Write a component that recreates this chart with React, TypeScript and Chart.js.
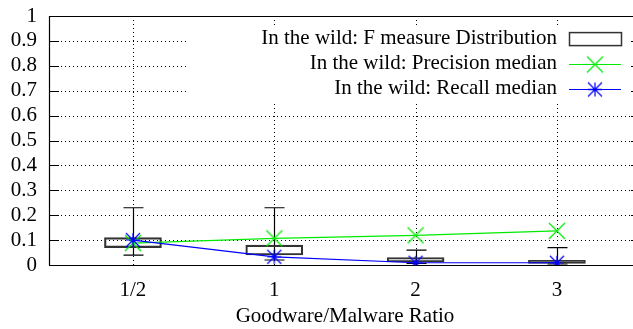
import React, { useEffect, useRef } from 'react';
import { Chart, registerables } from 'chart.js';

Chart.register(...registerables);

// Goodware/Malware ratio categories, placed at x = 1..4 on a linear axis
const categories = ['1/2', '1', '2', '3'];
const positions = [1, 2, 3, 4];

// F measure distribution (box + whiskers)
const boxLow = [0.07, 0.04, 0.012, 0.006];
const boxHigh = [0.11, 0.08, 0.03, 0.019];
const whiskerLow = [0.04, 0.02, 0.006, 0.004];
const whiskerHigh = [0.23, 0.23, 0.06, 0.07];

// Medians
const precisionMedian = [0.088, 0.107, 0.119, 0.137];
const recallMedian = [0.1, 0.033, 0.009, 0.009];

const yTicks = [0, 0.1, 0.2, 0.3, 0.4, 0.5, 0.6, 0.7, 0.8, 0.9, 1];

const legendLabels = [
  'In the wild: F measure Distribution',
  'In the wild: Precision median',
  'In the wild: Recall median',
];
const xTitle = 'Goodware/Malware Ratio';

const FONT_FAMILY = "'Liberation Serif', 'Times New Roman', serif";
const FONT_SIZE = 21;
const GREEN = 'rgb(0, 235, 0)';
const BLUE = 'rgb(0, 0, 255)';
const BOX_COLOR = '#333333';

const CANVAS_W = 660;
const CANVAS_H = 329;

function makeMarker(color: string, withPlus: boolean, s: number): HTMLCanvasElement {
  const size = Math.ceil(2 * s + 4);
  const c = document.createElement('canvas');
  c.width = size;
  c.height = size;
  const g = c.getContext('2d')!;
  const m = size / 2;
  g.strokeStyle = color;
  g.lineWidth = 1.2;
  g.beginPath();
  g.moveTo(m - s, m - s);
  g.lineTo(m + s, m + s);
  g.moveTo(m - s, m + s);
  g.lineTo(m + s, m - s);
  if (withPlus) {
    g.moveTo(m - s, m);
    g.lineTo(m + s, m);
    g.moveTo(m, m - s);
    g.lineTo(m, m + s);
  }
  g.stroke();
  return c;
}

function noScalePadding(scale: any) {
  scale.paddingTop = 0;
  scale.paddingBottom = 0;
  scale.paddingLeft = 0;
  scale.paddingRight = 0;
}

export default function App() {
  const canvasRef = useRef<HTMLCanvasElement | null>(null);

  useEffect(() => {
    document.body.style.margin = '0';
    const canvas = canvasRef.current;
    if (!canvas) return;

    const crossMarker = makeMarker(GREEN, false, 8);
    const starMarker = makeMarker(BLUE, true, 7);

    const font = { family: FONT_FAMILY, size: FONT_SIZE };

    const decor = {
      id: 'gnuplotDecor',
      beforeDatasetsDraw(chart: any) {
        const { ctx, chartArea, scales } = chart;
        const { left, right, top, bottom } = chartArea;
        const xs = scales.x;
        const ys = scales.y;
        ctx.save();
        // dotted grid
        ctx.strokeStyle = '#000';
        ctx.lineWidth = 1;
        ctx.setLineDash([1, 3]);
        ctx.beginPath();
        yTicks.forEach((v) => {
          if (v <= 0 || v >= 1) return;
          const py = Math.round(ys.getPixelForValue(v)) + 0.5;
          ctx.moveTo(left, py);
          ctx.lineTo(right, py);
        });
        positions.forEach((p) => {
          const px = Math.round(xs.getPixelForValue(p)) + 0.5;
          ctx.moveTo(px, top);
          ctx.lineTo(px, bottom);
        });
        ctx.stroke();
        ctx.setLineDash([]);

        // inward tick marks on the y axes
        ctx.beginPath();
        yTicks.forEach((v) => {
          const py = Math.round(ys.getPixelForValue(v)) + 0.5;
          ctx.moveTo(left, py);
          ctx.lineTo(left + 10, py);
          ctx.moveTo(right, py);
          ctx.lineTo(right - 10, py);
        });
        ctx.stroke();

        // whiskers with bars
        ctx.strokeStyle = '#000';
        ctx.lineWidth = 1.2;
        ctx.beginPath();
        positions.forEach((p, i) => {
          const px = Math.round(xs.getPixelForValue(p)) + 0.5;
          const lo = ys.getPixelForValue(whiskerLow[i]);
          const hi = ys.getPixelForValue(whiskerHigh[i]);
          ctx.moveTo(px, lo);
          ctx.lineTo(px, hi);
          ctx.moveTo(px - 10, hi);
          ctx.lineTo(px + 10, hi);
          ctx.moveTo(px - 10, lo);
          ctx.lineTo(px + 10, lo);
        });
        ctx.stroke();
        ctx.restore();
      },
      afterDatasetsDraw(chart: any) {
        const { ctx, chartArea } = chart;
        const { left, right, top, bottom } = chartArea;
        ctx.save();

        // key with opaque background
        ctx.fillStyle = '#fff';
        ctx.fillRect(right - 453, top + 10, 442, 76);
        ctx.font = `${FONT_SIZE}px ${FONT_FAMILY}`;
        ctx.fillStyle = '#000';
        ctx.textAlign = 'right';
        ctx.textBaseline = 'middle';
        const textX = right - 84;
        const sx0 = right - 72;
        const sx1 = right - 20;
        const sxm = (sx0 + sx1) / 2;
        const rows = [top + 22.6, top + 47.6, top + 72.6];
        legendLabels.forEach((t, i) => ctx.fillText(t, textX, rows[i]));

        ctx.strokeStyle = BOX_COLOR;
        ctx.lineWidth = 1.5;
        ctx.strokeRect(sx0 + 0.5, rows[0] - 6, sx1 - sx0, 13);

        ctx.lineWidth = 1.2;
        ctx.strokeStyle = GREEN;
        ctx.beginPath();
        ctx.moveTo(sx0, Math.round(rows[1]) + 0.5);
        ctx.lineTo(sx1, Math.round(rows[1]) + 0.5);
        ctx.stroke();
        ctx.drawImage(crossMarker, sxm - crossMarker.width / 2, Math.round(rows[1]) + 0.5 - crossMarker.height / 2);

        ctx.strokeStyle = BLUE;
        ctx.beginPath();
        ctx.moveTo(sx0, Math.round(rows[2]) + 0.5);
        ctx.lineTo(sx1, Math.round(rows[2]) + 0.5);
        ctx.stroke();
        ctx.drawImage(starMarker, sxm - starMarker.width / 2, Math.round(rows[2]) + 0.5 - starMarker.height / 2);

        // plot border
        ctx.strokeStyle = '#000';
        ctx.lineWidth = 1.2;
        ctx.beginPath();
        ctx.moveTo(left + 0.5, top + 0.5);
        ctx.lineTo(right, top + 0.5);
        ctx.moveTo(left + 0.5, top);
        ctx.lineTo(left + 0.5, bottom + 0.5);
        ctx.moveTo(left, bottom + 0.5);
        ctx.lineTo(right, bottom + 0.5);
        ctx.moveTo(right - 0.5, top);
        ctx.lineTo(right - 0.5, bottom);
        ctx.stroke();
        ctx.restore();
      },
    };

    const chart = new Chart(canvas, {
      data: {
        datasets: [
          {
            type: 'line',
            label: legendLabels[2],
            data: positions.map((p, i) => ({ x: p, y: recallMedian[i] })),
            borderColor: BLUE,
            backgroundColor: BLUE,
            borderWidth: 1.2,
            pointStyle: starMarker,
            pointRadius: 5,
            tension: 0,
          },
          {
            type: 'line',
            label: legendLabels[1],
            data: positions.map((p, i) => ({ x: p, y: precisionMedian[i] })),
            borderColor: GREEN,
            backgroundColor: GREEN,
            borderWidth: 1.2,
            pointStyle: crossMarker,
            pointRadius: 5,
            tension: 0,
          },
          {
            type: 'bar',
            label: legendLabels[0],
            data: positions.map((p, i) => ({ x: p, y: [boxLow[i], boxHigh[i]] })),
            backgroundColor: 'rgba(255,255,255,0)',
            borderColor: BOX_COLOR,
            borderWidth: 1.5,
            borderSkipped: false,
            barThickness: 57,
          },
        ],
      } as any,
      options: {
        responsive: false,
        animation: false,
        layout: { padding: { left: 0, right: CANVAS_W - 641, top: 16, bottom: 0 } },
        plugins: {
          legend: { display: false },
          tooltip: { enabled: false },
        },
        scales: {
          x: {
            type: 'linear',
            offset: false,
            min: 0.406,
            max: 4.595,
            grid: { display: false, drawTicks: false, offset: false },
            border: { display: false },
            afterBuildTicks: (scale: any) => {
              scale.ticks = positions.map((v) => ({ value: v }));
            },
            ticks: {
              autoSkip: false,
              maxRotation: 0,
              padding: 12.4,
              color: '#000',
              font,
              callback: (v: any) => {
                const i = positions.indexOf(Number(v));
                return i >= 0 ? categories[i] : '';
              },
            },
            title: {
              display: true,
              text: xTitle,
              color: '#000',
              font,
              padding: { top: 0, bottom: 0 },
            },
            afterFit: (scale: any) => {
              scale.height = 64;
              noScalePadding(scale);
            },
          },
          y: {
            type: 'linear',
            min: 0,
            max: 1,
            grid: { display: false, drawTicks: false },
            border: { display: false },
            afterBuildTicks: (scale: any) => {
              scale.ticks = yTicks.map((v) => ({ value: v }));
            },
            ticks: {
              autoSkip: false,
              padding: 12,
              color: '#000',
              font,
              callback: (v: any) => String(Math.round(Number(v) * 10) / 10),
            },
            afterFit: (scale: any) => {
              scale.width = 49;
              noScalePadding(scale);
            },
          },
        },
      } as any,
      plugins: [decor],
    });

    return () => chart.destroy();
  }, []);

  return (
    <div style={{ width: 633, height: CANVAS_H, overflow: 'hidden', background: '#fff' }}>
      <canvas
        ref={canvasRef}
        width={CANVAS_W}
        height={CANVAS_H}
        style={{ width: CANVAS_W, height: CANVAS_H, display: 'block' }}
      />
    </div>
  );
}
